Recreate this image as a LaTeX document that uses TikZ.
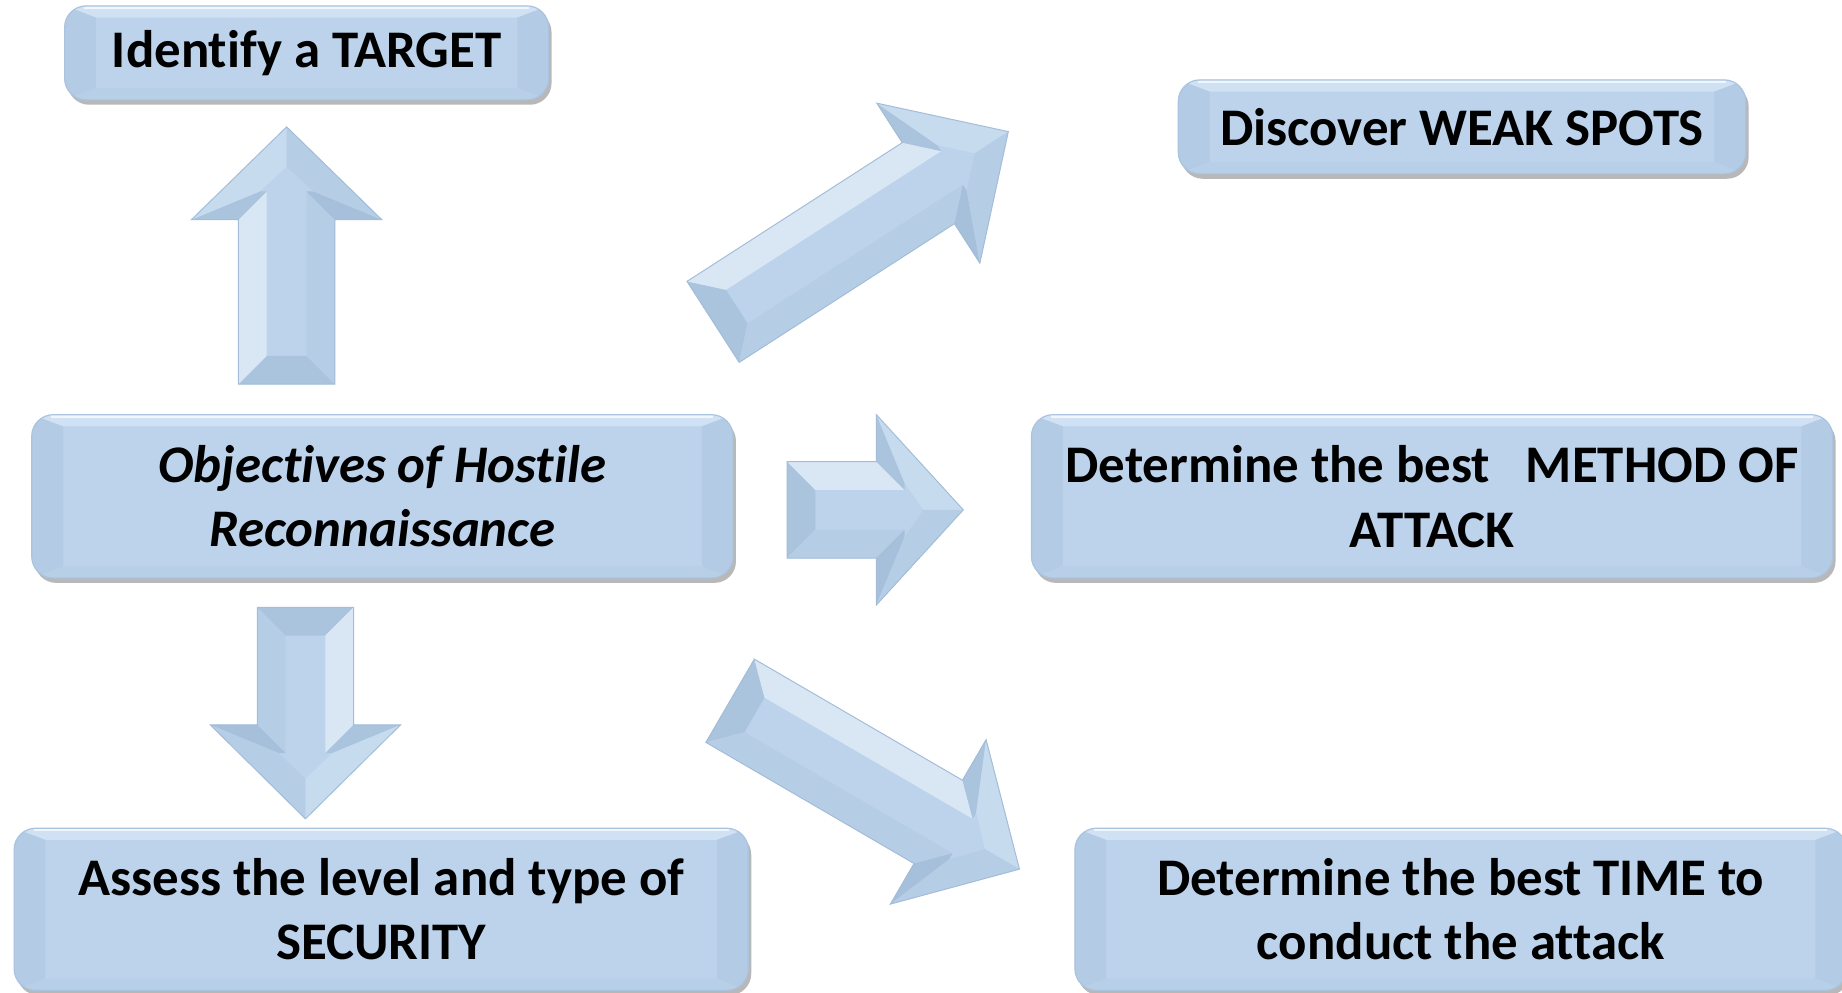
\documentclass[tikz,border=0pt]{standalone}
\usepackage{fontspec}
\setmainfont{Carlito}[Ligatures=NoCommon]
\usetikzlibrary{calc,shadows}
\definecolor{boxfill}{HTML}{BCD3EB}
\definecolor{boxedge}{HTML}{AAC4DF}
\definecolor{bevtop}{HTML}{CFE1F2}
\definecolor{bevside}{HTML}{B3CBE4}
\definecolor{bevbot}{HTML}{B8CFE8}
\definecolor{arrowbase}{HTML}{BCD3EB}
\definecolor{arrowedge}{HTML}{A3BDD8}
\definecolor{fLight}{HTML}{D9E7F5}
\definecolor{fLight2}{HTML}{C7DBEF}
\definecolor{fMid}{HTML}{B6CDE6}
\definecolor{fDark}{HTML}{ABC4DE}
\definecolor{fDark2}{HTML}{A6BFDA}
\tikzset{
  boxbevel/.style={path picture={
    \coordinate (@sw) at (path picture bounding box.south west);
    \coordinate (@ne) at (path picture bounding box.north east);
    \coordinate (@nw) at (@sw |- @ne);
    \coordinate (@se) at (@ne |- @sw);
    \fill[sharp corners, bevtop] (@nw) -- ($(@nw)+(16pt,-6pt)$) -- ($(@ne)+(-16pt,-6pt)$) -- (@ne) -- cycle;
    \fill[sharp corners, bevside] (@nw) -- ($(@nw)+(16pt,-6pt)$) -- ($(@sw)+(16pt,6pt)$) -- (@sw) -- cycle;
    \fill[sharp corners, bevside] (@ne) -- ($(@ne)+(-16pt,-6pt)$) -- ($(@se)+(-16pt,6pt)$) -- (@se) -- cycle;
    \fill[sharp corners, bevbot] (@sw) -- ($(@sw)+(16pt,6pt)$) -- ($(@se)+(-16pt,6pt)$) -- (@se) -- cycle;
    \draw[sharp corners, white, opacity=0.7, line width=1.2pt] ($(@nw)+(10pt,-1pt)$) -- ($(@ne)+(-10pt,-1pt)$);
  }},
  labelbox/.style={boxbevel, draw=boxedge, line width=0.6pt, fill=boxfill,
    rounded corners=11pt, align=center, inner sep=0pt, text=black,
    font=\fontsize{27}{33}\selectfont\bfseries,
    drop shadow={shadow xshift=1.5pt, shadow yshift=-2.5pt, opacity=0.28, fill=black}},
  pics/blockarrow/.style args={#1/#2}{code={
    \def\Lz{#1}\def\Hz{#2}
    \fill[arrowbase] (0,-41) -- ({\Lz-\Hz},-41) -- ({\Lz-\Hz},-81) -- (\Lz,0) -- ({\Lz-\Hz},81) -- ({\Lz-\Hz},41) -- (0,41) -- cycle;
    % tail facet
    \fill[fDark] (0,-41) -- (24,-17) -- (24,17) -- (0,41) -- cycle;
    % shaft sides
    \fill[fLight] (0,-41) -- ({\Lz-\Hz},-41) -- ({\Lz-\Hz+24},-17) -- (24,-17) -- cycle;
    \fill[fMid] (0,41) -- ({\Lz-\Hz},41) -- ({\Lz-\Hz+24},17) -- (24,17) -- cycle;
    % head back facets
    \fill[fDark] ({\Lz-\Hz},-41) -- ({\Lz-\Hz},-81) -- ({\Lz-\Hz+24},-23) -- ({\Lz-\Hz+24},-17) -- cycle;
    \fill[fDark2] ({\Lz-\Hz},41) -- ({\Lz-\Hz},81) -- ({\Lz-\Hz+24},23) -- ({\Lz-\Hz+24},17) -- cycle;
    % head front facets
    \fill[fLight2] ({\Lz-\Hz},-81) -- (\Lz,0) -- ({\Lz-34},0) -- ({\Lz-\Hz+24},-23) -- cycle;
    \fill[fMid] ({\Lz-\Hz},81) -- (\Lz,0) -- ({\Lz-34},0) -- ({\Lz-\Hz+24},23) -- cycle;
    \draw[arrowedge, line width=0.5pt, line join=miter] (0,-41) -- ({\Lz-\Hz},-41) -- ({\Lz-\Hz},-81) -- (\Lz,0) -- ({\Lz-\Hz},81) -- ({\Lz-\Hz},41) -- (0,41) -- cycle;
  }}
}
\begin{document}
\begin{tikzpicture}[x=0.6pt, y=-0.6pt]
\useasboundingbox[fill=white] (0,0) rectangle (1568,845);

% boxes
\node[labelbox, minimum width=247.2pt, minimum height=48pt] (target) at (261,45) {Identify a TARGET};
\node[labelbox, minimum width=289.8pt, minimum height=48pt] (weak) at (1244.5,108) {Discover WEAK SPOTS};
\node[labelbox, minimum width=358.2pt, minimum height=83.4pt, font=\fontsize{27}{33}\selectfont\bfseries\itshape] (obj) at (325.5,422.5) {Objectives of Hostile\\Reconnaissance};
\node[labelbox, minimum width=409.2pt, minimum height=83.4pt] (method) at (1219,422.5) {Determine the best\ \ \ METHOD OF\\ATTACK};
\node[labelbox, minimum width=375pt, minimum height=82.8pt] (assess) at (324.5,774) {Assess the level and type of\\SECURITY};
\node[labelbox, minimum width=394.2pt, minimum height=82.8pt] (time) at (1243.5,774) {Determine the best TIME to\\conduct the attack};

% block arrows
\pic[rotate=90] (upA) at (244,327) {blockarrow={219/79}};
\pic[rotate=-90] (downA) at (260,517) {blockarrow={180/80}};
\pic (rightA) at (670,434) {blockarrow={150/74}};
\pic[rotate=32.8] (urA) at (607,274) {blockarrow={299/81}};
\pic[rotate=-30.2] (drA) at (621.5,596.5) {blockarrow={285/80}};
\end{tikzpicture}
\end{document}
